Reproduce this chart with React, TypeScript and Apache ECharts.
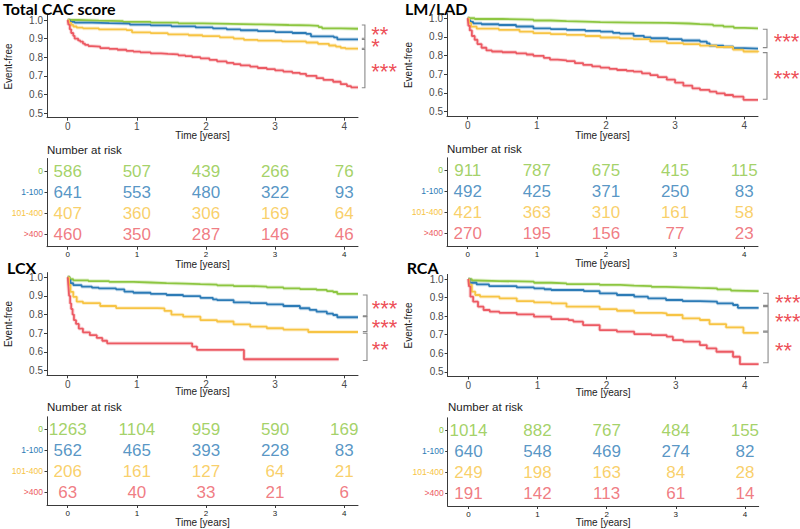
import React, { useEffect, useRef } from "react";
import * as echarts from "echarts";

const GROUPS = ["0", "1-100", "101-400", ">400"];
const COLORS = ["#8DC641", "#2C7BB6", "#F7C444", "#EC5A63"];
const TIME_TICKS = [0, 1, 2, 3, 4];
const SURV_TICKS = [0.5, 0.6, 0.7, 0.8, 0.9, 1.0];
const TITLES = ["Total CAC score", "LM/LAD", "LCX", "RCA"];

// ---- Total CAC score curves [time, survival]
const cacG = [[0,1],[0.15,0.997],[0.45,0.994],[0.8,0.99],[1.2,0.986],[1.6,0.982],[1.95,0.979],[2.35,0.976],[2.8,0.973],[3.2,0.971],[3.5,0.968],[3.63,0.962],[3.68,0.955],[3.95,0.953],[4.2,0.952]];
const cacB = [[0,1],[0.03,0.99],[0.1,0.986],[0.35,0.983],[0.6,0.98],[0.9,0.975],[1.2,0.971],[1.5,0.966],[1.85,0.96],[2.1,0.955],[2.3,0.95],[2.5,0.945],[2.75,0.94],[3.0,0.935],[3.25,0.93],[3.45,0.925],[3.52,0.912],[3.85,0.907],[3.9,0.896],[4.2,0.896]];
const cacY = [[0,1],[0.02,0.986],[0.05,0.974],[0.08,0.965],[0.13,0.959],[0.22,0.955],[0.45,0.95],[0.85,0.946],[0.93,0.934],[1.2,0.929],[1.45,0.923],[1.75,0.918],[1.95,0.913],[2.2,0.907],[2.4,0.9],[2.55,0.893],[2.75,0.889],[3.1,0.885],[3.45,0.879],[3.62,0.872],[3.78,0.863],[3.88,0.857],[3.95,0.85],[4.02,0.846],[4.2,0.846]];
const cacR = [[0,1],[0.01,0.975],[0.03,0.95],[0.05,0.93],[0.08,0.915],[0.1,0.9],[0.15,0.89],[0.18,0.884],[0.22,0.873],[0.25,0.866],[0.3,0.86],[0.35,0.857],[0.47,0.849],[0.6,0.845],[0.72,0.84],[0.85,0.834],[0.95,0.83],[1.05,0.826],[1.2,0.821],[1.35,0.818],[1.45,0.815],[1.6,0.81],[1.7,0.806],[1.8,0.8],[1.92,0.794],[2.05,0.786],[2.16,0.778],[2.3,0.77],[2.4,0.763],[2.5,0.756],[2.64,0.749],[2.75,0.742],[2.88,0.736],[3.0,0.729],[3.12,0.722],[3.25,0.716],[3.36,0.71],[3.45,0.7],[3.6,0.687],[3.7,0.678],[3.84,0.668],[3.95,0.655],[4.04,0.645],[4.1,0.638],[4.2,0.638]];

// ---- LM/LAD curves
const ladG = [[0,1],[0.1,0.996],[0.5,0.993],[0.95,0.988],[1.2,0.985],[1.43,0.982],[1.7,0.979],[1.92,0.977],[2.4,0.975],[2.88,0.972],[3.2,0.969],[3.36,0.966],[3.55,0.961],[3.7,0.955],[3.85,0.949],[4.0,0.946],[4.2,0.945]];
const ladB = [[0,1],[0.02,0.988],[0.04,0.98],[0.08,0.973],[0.2,0.968],[0.45,0.964],[0.7,0.956],[0.95,0.946],[1.2,0.942],[1.43,0.938],[1.7,0.933],[1.92,0.929],[2.1,0.922],[2.2,0.918],[2.4,0.906],[2.55,0.898],[2.65,0.893],[2.9,0.888],[3.1,0.881],[3.36,0.875],[3.46,0.866],[3.5,0.853],[3.7,0.848],[3.84,0.84],[4.0,0.837],[4.2,0.836]];
const ladY = [[0,1],[0.02,0.975],[0.05,0.955],[0.13,0.944],[0.45,0.938],[0.75,0.928],[0.95,0.92],[1.2,0.915],[1.43,0.911],[1.7,0.905],[1.92,0.897],[2.2,0.892],[2.4,0.888],[2.64,0.876],[2.88,0.867],[3.12,0.861],[3.36,0.854],[3.6,0.846],[3.84,0.832],[3.99,0.822],[4.2,0.818]];
const ladR = [[0,1],[0.01,0.96],[0.03,0.935],[0.06,0.905],[0.1,0.885],[0.14,0.862],[0.2,0.842],[0.27,0.828],[0.35,0.822],[0.5,0.818],[0.7,0.812],[0.85,0.806],[0.95,0.799],[1.1,0.788],[1.19,0.778],[1.3,0.775],[1.43,0.771],[1.55,0.76],[1.67,0.75],[1.8,0.742],[1.92,0.736],[2.05,0.729],[2.16,0.723],[2.3,0.718],[2.4,0.714],[2.52,0.705],[2.64,0.696],[2.75,0.685],[2.88,0.671],[3.0,0.655],[3.12,0.639],[3.25,0.625],[3.36,0.616],[3.5,0.607],[3.6,0.598],[3.72,0.589],[3.84,0.58],[3.99,0.563],[4.2,0.563]];

// ---- LCX curves
const lcxG = [[0,1],[0.03,0.99],[0.08,0.983],[0.3,0.979],[0.6,0.975],[0.95,0.972],[1.2,0.969],[1.43,0.966],[1.7,0.963],[1.92,0.961],[2.16,0.957],[2.4,0.953],[2.64,0.95],[2.88,0.946],[3.12,0.941],[3.36,0.937],[3.6,0.932],[3.75,0.926],[3.84,0.921],[3.9,0.911],[4.2,0.911]];
const lcxB = [[0,1],[0.02,0.985],[0.04,0.968],[0.08,0.958],[0.2,0.95],[0.35,0.944],[0.45,0.94],[0.7,0.935],[0.82,0.923],[0.95,0.917],[1.2,0.911],[1.43,0.905],[1.67,0.899],[1.92,0.89],[2.1,0.882],[2.16,0.878],[2.4,0.866],[2.64,0.861],[2.88,0.855],[3.12,0.846],[3.36,0.834],[3.5,0.825],[3.6,0.816],[3.75,0.805],[3.84,0.798],[3.9,0.786],[4.2,0.786]];
const lcxY = [[0,1],[0.02,0.96],[0.04,0.922],[0.08,0.895],[0.13,0.87],[0.22,0.861],[0.47,0.846],[0.7,0.835],[1.3,0.833],[1.4,0.82],[1.5,0.8],[1.67,0.789],[1.92,0.771],[2.16,0.763],[2.4,0.748],[2.64,0.736],[2.88,0.727],[3.0,0.727],[3.12,0.72],[3.45,0.72],[3.48,0.707],[4.2,0.707]];
const lcxR = [[0,1],[0.01,0.95],[0.02,0.9],[0.035,0.86],[0.05,0.83],[0.07,0.8],[0.09,0.77],[0.12,0.75],[0.16,0.725],[0.22,0.705],[0.32,0.69],[0.42,0.675],[0.5,0.66],[0.57,0.646],[1.8,0.629],[1.87,0.611],[2.55,0.561],[3.92,0.561]];

// ---- RCA curves
const rcaG = [[0,1],[0.05,0.992],[0.12,0.989],[0.45,0.986],[0.95,0.98],[1.2,0.977],[1.42,0.973],[1.9,0.968],[2.2,0.965],[2.4,0.962],[2.65,0.958],[2.86,0.955],[3.1,0.952],[3.35,0.95],[3.6,0.944],[3.8,0.938],[3.85,0.935],[4.2,0.933]];
const rcaB = [[0,1],[0.02,0.985],[0.03,0.98],[0.12,0.971],[0.3,0.962],[0.7,0.955],[0.95,0.95],[1.1,0.945],[1.2,0.941],[1.67,0.935],[1.9,0.923],[2.15,0.914],[2.4,0.905],[2.6,0.896],[2.86,0.887],[3.1,0.881],[3.35,0.878],[3.6,0.869],[3.83,0.86],[3.9,0.845],[4.2,0.845]];
const rcaY = [[0,1],[0.015,0.97],[0.05,0.932],[0.1,0.914],[0.17,0.905],[0.45,0.896],[0.7,0.881],[0.95,0.874],[1.2,0.869],[1.42,0.851],[1.9,0.838],[2.15,0.829],[2.4,0.818],[2.8,0.815],[2.87,0.806],[3.1,0.788],[3.35,0.779],[3.49,0.757],[3.73,0.739],[3.98,0.71],[4.2,0.71]];
const rcaR = [[0,1],[0.01,0.96],[0.03,0.905],[0.07,0.878],[0.14,0.851],[0.22,0.833],[0.31,0.824],[0.45,0.818],[0.7,0.809],[0.95,0.797],[1.2,0.784],[1.45,0.778],[1.52,0.77],[1.66,0.752],[1.9,0.725],[2.15,0.716],[2.4,0.703],[2.65,0.698],[2.87,0.689],[2.96,0.671],[3.11,0.662],[3.35,0.644],[3.45,0.626],[3.59,0.608],[3.83,0.581],[3.93,0.541],[4.2,0.541]];

// ---- Number at risk (rows: 0, 1-100, 101-400, >400; columns: years 0..4)
const cacRisk = [[586,507,439,266,76],[641,553,480,322,93],[407,360,306,169,64],[460,350,287,146,46]];
const ladRisk = [[911,787,675,415,115],[492,425,371,250,83],[421,363,310,161,58],[270,195,156,77,23]];
const lcxRisk = [[1263,1104,959,590,169],[562,465,393,228,83],[206,161,127,64,21],[63,40,33,21,6]];
const rcaRisk = [[1014,882,767,484,155],[640,548,469,274,82],[249,198,163,84,28],[191,142,113,61,14]];

// ---- Significance brackets [upper, lower, label]
const cacBrackets = [[0.973,0.902,"**"],[0.896,0.848,"*"],[0.842,0.636,"***"]];
const ladBrackets = [[0.941,0.843,"***"],[0.816,0.566,"***"]];
const lcxBrackets = [[0.905,0.793,"***"],[0.789,0.709,"***"],[0.70,0.554,"**"]];
const rcaBrackets = [[0.923,0.858,"***"],[0.851,0.719,"***"],[0.714,0.549,"**"]];

const PANELS = [
  { curves: [cacG, cacB, cacY, cacR], risk: cacRisk, brackets: cacBrackets },
  { curves: [ladG, ladB, ladY, ladR], risk: ladRisk, brackets: ladBrackets },
  { curves: [lcxG, lcxB, lcxY, lcxR], risk: lcxRisk, brackets: lcxBrackets },
  { curves: [rcaG, rcaB, rcaY, rcaR], risk: rcaRisk, brackets: rcaBrackets },
];

const LAYOUT = [
  { km: { left: 47, top: 15.35, width: 311, height: 102.3 }, risk: { left: 47, top: 158.5, width: 311, height: 88.2 }, title: [3, 8.5], ef: [8.3, 66.5], timeKm: 135, timeRisk: 264, nar: [47, 150], bx: [4.255, 4.3], sx: 4.385 },
  { km: { left: 447, top: 13.6, width: 311, height: 102.7 }, risk: { left: 447, top: 157.8, width: 311, height: 88.2 }, title: [405, 8.5], ef: [408.3, 65], timeKm: 135, timeRisk: 263.3, nar: [447, 149.3], bx: [4.27, 4.33], sx: 4.42 },
  { km: { left: 47, top: 272.6, width: 311, height: 102.7 }, risk: { left: 47, top: 416.8, width: 311, height: 88.2 }, title: [7, 267], ef: [8.3, 324], timeKm: 391.7, timeRisk: 522, nar: [47, 407], bx: [4.27, 4.33], sx: 4.39 },
  { km: { left: 447.6, top: 274.4, width: 311, height: 102 }, risk: { left: 447.7, top: 417.8, width: 311, height: 88.2 }, title: [406.7, 267], ef: [408.3, 325.4], timeKm: 392.7, timeRisk: 522.3, nar: [448, 407.3], bx: [4.265, 4.337], sx: 4.43 },
];

const FONT = "Liberation Sans, Arial, sans-serif";
const AXIS_COLOR = "#3a3a3a";
const LABEL_COLOR = "#4a4a4a";

function buildOption() {
  const grid: any[] = [];
  const xAxis: any[] = [];
  const yAxis: any[] = [];
  const series: any[] = [];
  const graphic: any[] = [];

  const rich: any = {};
  GROUPS.forEach((g, i) => {
    rich["g" + i] = { color: COLORS[i], fontSize: 8.5, fontFamily: FONT };
  });

  PANELS.forEach((panel, pi) => {
    const L = LAYOUT[pi];
    const km = pi * 2;
    const rk = pi * 2 + 1;
    grid.push({ ...L.km, containLabel: false });
    grid.push({ ...L.risk, containLabel: false });

    const xBase = {
      type: "value",
      min: -0.3,
      max: 4.2,
      axisLine: { onZero: false, lineStyle: { color: AXIS_COLOR, width: 1 } },
      axisTick: { show: true, length: 3, customValues: TIME_TICKS, lineStyle: { color: AXIS_COLOR } },
      splitLine: { show: false },
    };
    xAxis.push({ ...xBase, gridIndex: km, axisLabel: { customValues: TIME_TICKS, fontSize: 10, color: LABEL_COLOR, margin: 4, fontFamily: FONT } });
    xAxis.push({ ...xBase, gridIndex: rk, axisLabel: { customValues: TIME_TICKS, fontSize: 8, color: "#222", margin: 4, fontFamily: FONT } });

    yAxis.push({
      type: "value",
      gridIndex: km,
      min: 0.475,
      max: 1.025,
      axisLine: { onZero: false, lineStyle: { color: AXIS_COLOR, width: 1 } },
      axisTick: { show: true, length: 3, customValues: SURV_TICKS, lineStyle: { color: AXIS_COLOR } },
      axisLabel: { customValues: SURV_TICKS, fontSize: 10, lineHeight: 10, color: LABEL_COLOR, margin: 4, fontFamily: FONT, formatter: (v: number) => v.toFixed(1) },
      splitLine: { show: false },
    });
    yAxis.push({
      type: "value",
      gridIndex: rk,
      min: 0.4,
      max: 4.6,
      inverse: true,
      axisLine: { onZero: false, lineStyle: { color: AXIS_COLOR, width: 1 } },
      axisTick: { show: true, length: 2.5, customValues: [1, 2, 3, 4], lineStyle: { color: AXIS_COLOR } },
      axisLabel: {
        customValues: [1, 2, 3, 4],
        margin: 4,
        formatter: (v: number) => {
          const i = Math.round(v) - 1;
          return "{g" + i + "|" + GROUPS[i] + "}";
        },
        rich,
      },
      splitLine: { show: false },
    });

    // KM curves (halo + line)
    panel.curves.forEach((c, gi) => {
      series.push({
        type: "line", xAxisIndex: km, yAxisIndex: km, data: c, step: "end",
        symbol: "none", silent: true, z: 1,
        lineStyle: { color: COLORS[gi], width: 3.8, opacity: 0.25 },
      });
      series.push({
        type: "line", xAxisIndex: km, yAxisIndex: km, data: c, step: "end",
        symbol: "none", silent: true, z: 2,
        lineStyle: { color: COLORS[gi], width: 1.8 },
      });
    });

    // brackets (custom series, drawn through the axes' scales)
    series.push({
      type: "custom", xAxisIndex: km, yAxisIndex: km, clip: false, silent: true, z: 3,
      data: panel.brackets.map((b: any) => [L.bx[0], L.bx[1], b[0], b[1]]),
      encode: { x: [0, 1], y: [2, 3] },
      renderItem: (params: any, api: any) => {
        const a = api.coord([api.value(0), api.value(2)]);
        const b = api.coord([api.value(1), api.value(2)]);
        const c = api.coord([api.value(1), api.value(3)]);
        const d = api.coord([api.value(0), api.value(3)]);
        return {
          type: "polyline",
          shape: { points: [a, b, c, d] },
          style: { stroke: "#8a8a8a", lineWidth: 1.1, fill: null },
        };
      },
    });
    series.push({
      type: "scatter", xAxisIndex: km, yAxisIndex: km, clip: false, silent: true,
      symbolSize: 1, itemStyle: { color: "transparent" },
      data: panel.brackets.map((b: any) => [L.sx, (b[0] + b[1]) / 2, b[2]]),
      label: {
        show: true, position: "right", distance: 0,
        formatter: (p: any) => p.value[2],
        color: "#E8202A", fontSize: 22, lineHeight: 10, fontWeight: "normal", fontFamily: FONT, offset: [0, 3],
      },
    });

    // risk table
    panel.risk.forEach((row, gi) => {
      series.push({
        type: "scatter", xAxisIndex: rk, yAxisIndex: rk, silent: true,
        symbolSize: 1, itemStyle: { color: "transparent" },
        data: row.map((n, i) => [TIME_TICKS[i], gi + 1, n]),
        label: {
          show: true, position: "inside",
          formatter: (p: any) => String(p.value[2]),
          color: COLORS[gi], fontSize: 17, fontFamily: FONT,
        },
      });
    });

    // texts
    graphic.push({
      type: "text", x: L.title[0], y: L.title[1],
      style: { text: TITLES[pi], fontSize: 16, lineHeight: 12, fontWeight: "bold", fontFamily: "Lato, Open Sans, sans-serif", fill: "#000", align: "left", verticalAlign: "middle" },
    });
    graphic.push({
      type: "text", x: L.ef[0], y: L.ef[1], rotation: Math.PI / 2,
      style: { text: "Event-free", fontSize: 10, fontFamily: FONT, fill: "#222", align: "center", verticalAlign: "middle" },
    });
    const cx = L.km.left + L.km.width / 2;
    graphic.push({
      type: "text", x: cx, y: L.timeKm,
      style: { text: "Time [years]", fontSize: 10, fontFamily: FONT, fill: "#222", align: "center", verticalAlign: "middle" },
    });
    graphic.push({
      type: "text", x: cx, y: L.timeRisk,
      style: { text: "Time [years]", fontSize: 10, fontFamily: FONT, fill: "#222", align: "center", verticalAlign: "middle" },
    });
    graphic.push({
      type: "text", x: L.nar[0], y: L.nar[1],
      style: { text: "Number at risk", fontSize: 11.5, fontFamily: FONT, fill: "#222", align: "left", verticalAlign: "middle" },
    });
  });

  return {
    animation: false,
    backgroundColor: "#ffffff",
    grid, xAxis, yAxis, series, graphic,
  };
}

export default function App() {
  const ref = useRef<HTMLDivElement>(null);
  useEffect(() => {
    if (!ref.current) return;
    const chart = echarts.init(ref.current, undefined, { renderer: "svg" });
    chart.setOption(buildOption() as any);
    return () => chart.dispose();
  }, []);
  return (
    <div
      ref={ref}
      style={{ position: "fixed", left: 0, top: 0, width: 800, height: 529, background: "#fff" }}
    />
  );
}
